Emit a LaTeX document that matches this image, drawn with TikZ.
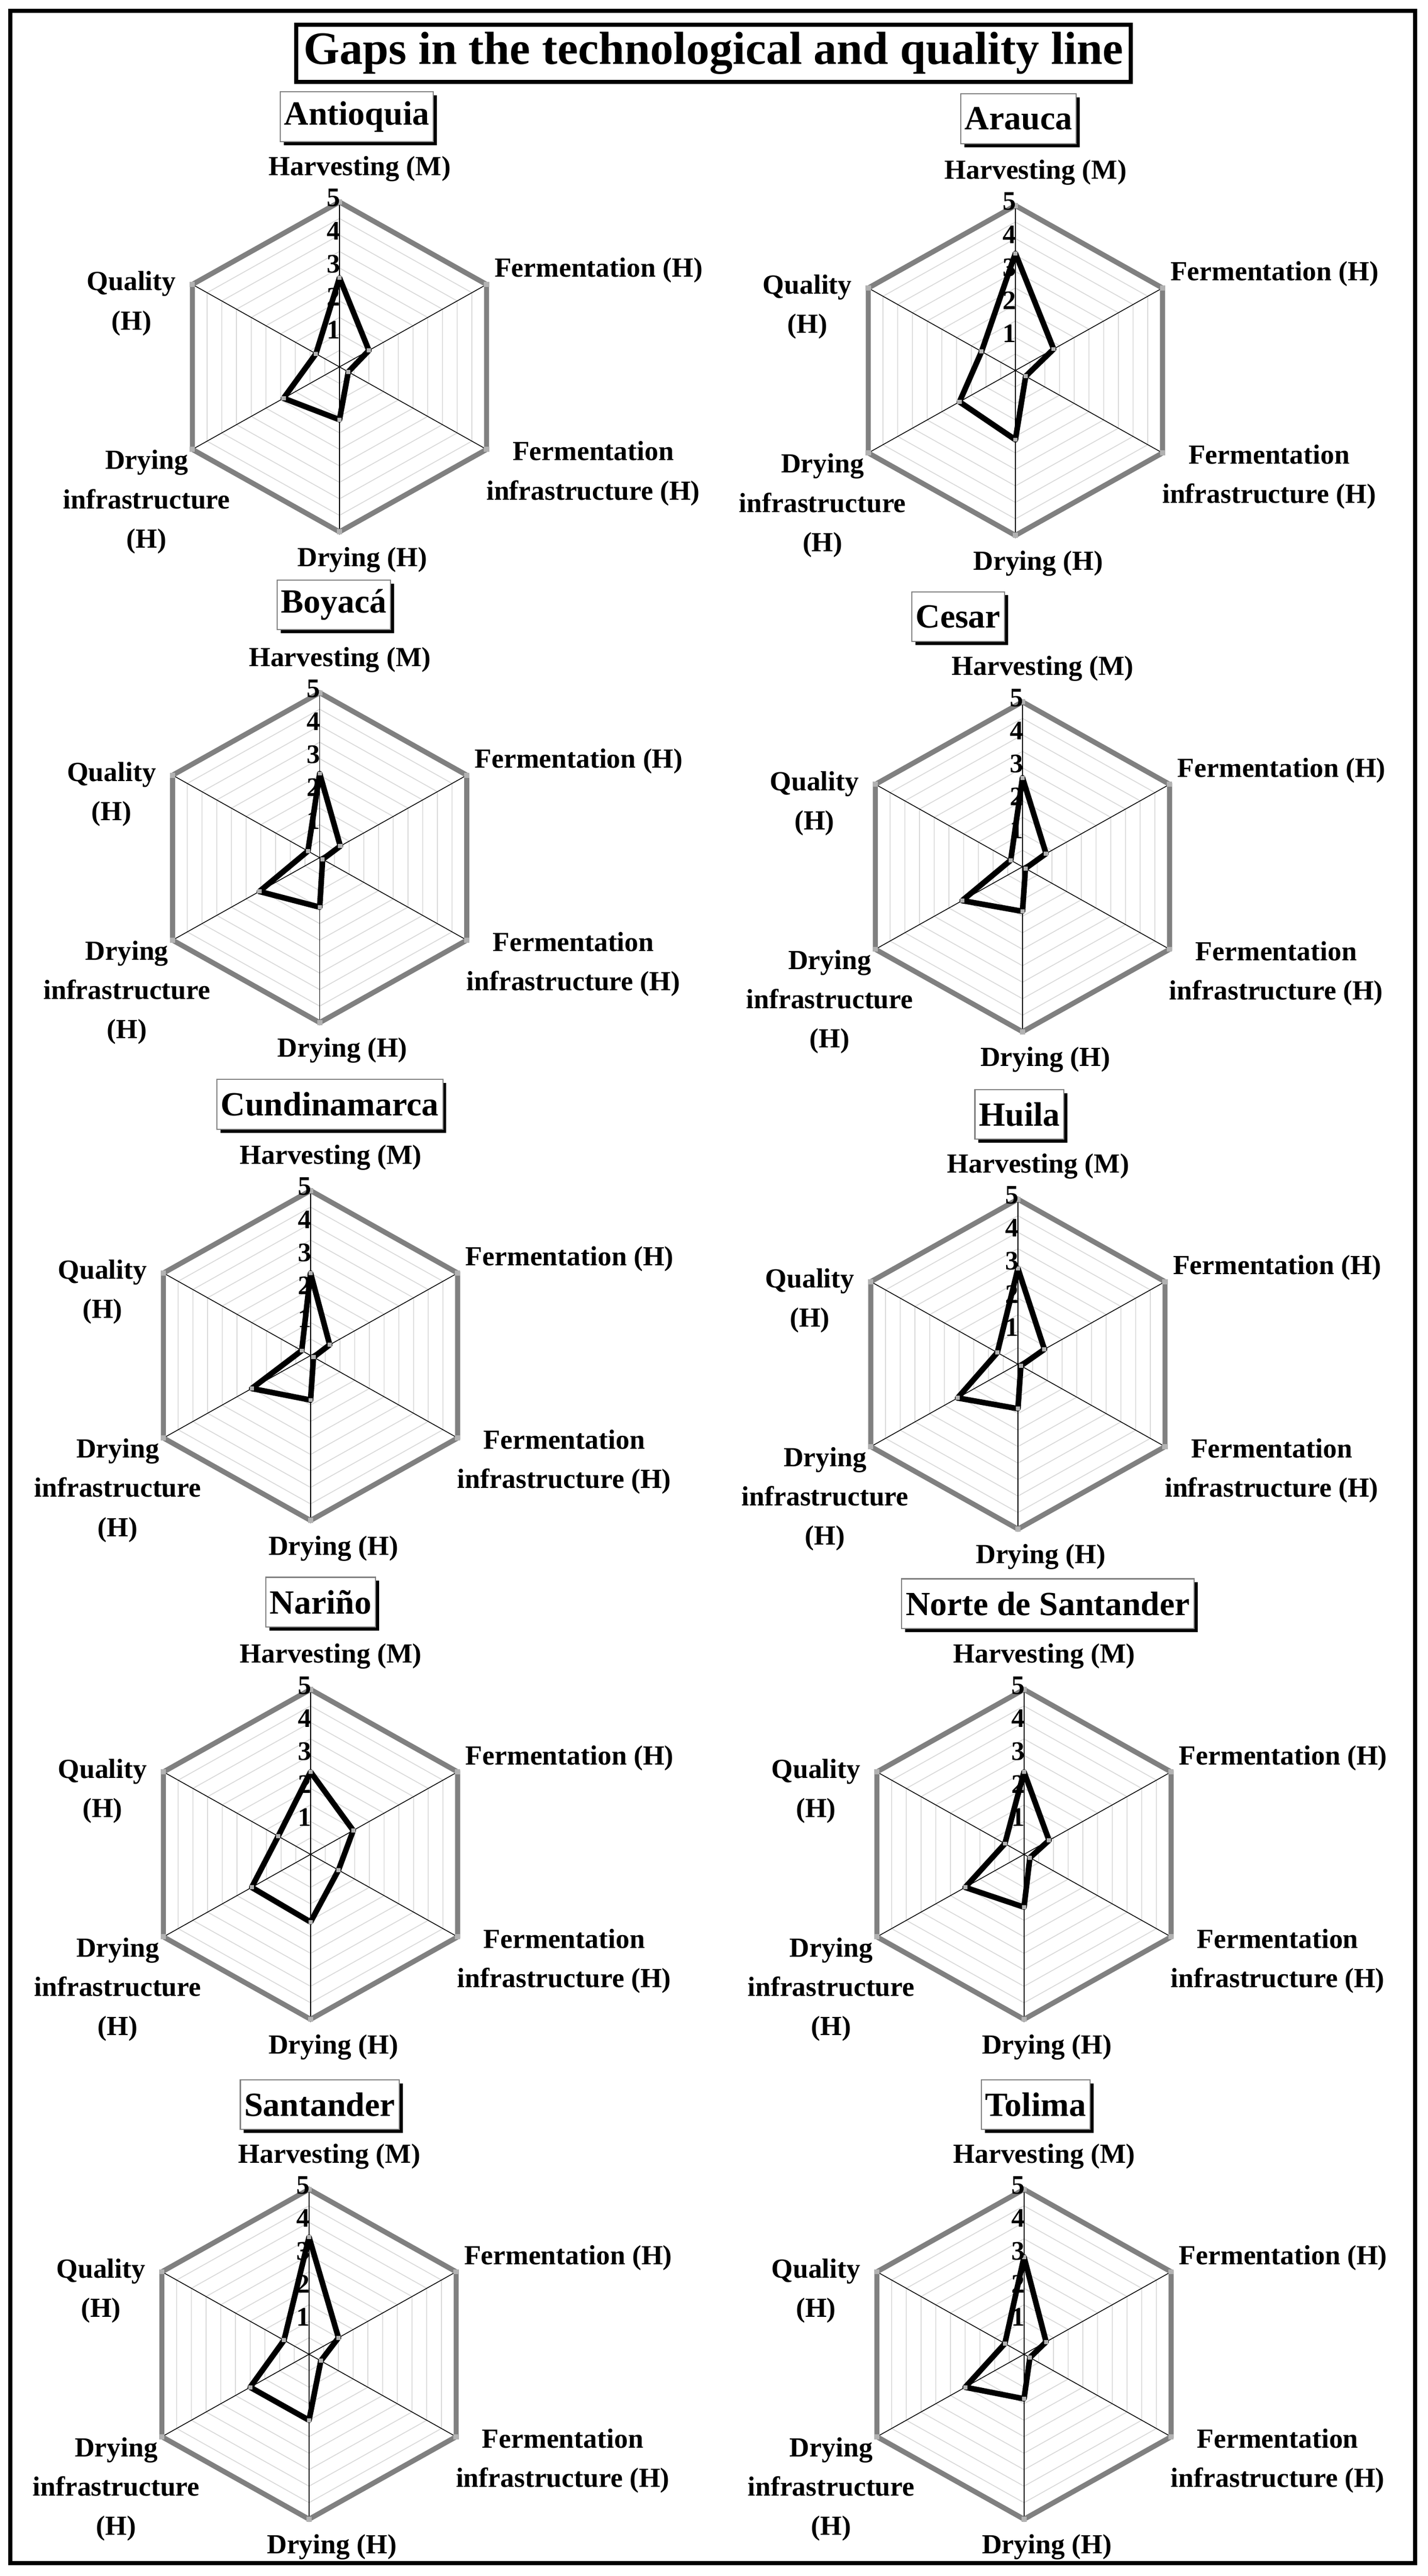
\documentclass[tikz,border=0pt]{standalone}
\usepackage{fontspec}
\setmainfont{Liberation Serif}
\usetikzlibrary{shadows}
\begin{document}
\begin{tikzpicture}[
  ring/.style={gray!30,line width=0.5pt},
  spoke/.style={black,line width=0.45pt},
  outer/.style={gray,line width=0.1cm,line join=miter},
  data/.style={black,line width=0.11cm,line join=round},
  mk/.style={fill=gray!60},
  lab/.style={font=\fontsize{15.5}{22}\selectfont\bfseries,inner sep=0pt,align=center},
  tick/.style={font=\fontsize{15}{16}\selectfont\bfseries,inner sep=0pt,anchor=east},
  rtit/.style={draw=gray,line width=0.6pt,fill=white,font=\fontsize{19}{22}\selectfont\bfseries,
    inner xsep=0.08cm,minimum height=0.98cm,
    drop shadow={shadow xshift=0.07cm,shadow yshift=-0.07cm,fill=black,opacity=1}},
  mtit/.style={draw=black,line width=0.08cm,fill=white,font=\fontsize{26}{30}\selectfont\bfseries,
    inner xsep=0.15cm,minimum height=1.12cm}
]
\useasboundingbox (0,0) rectangle (28.14,-50.76);
\draw[line width=0.08cm] (0.2,-0.21) rectangle (27.89,-50.51);
\node[mtit] (main) at (14.06,-1.05) {Gaps in the technological and quality line};

\newcommand\radar[9]{%
\begin{scope}[shift={(#2,#3)}]
 \begin{scope}[xscale=1.03]
  \foreach \k in {1,...,9}{\draw[ring] (90:\k*0.325) -- (30:\k*0.325) -- (-30:\k*0.325) -- (-90:\k*0.325) -- (-150:\k*0.325) -- (150:\k*0.325) -- cycle;}
  \foreach \a in {90,30,-30,-90,-150,150}{\draw[spoke] (0,0) -- (\a:3.25);}
  \draw[outer] (90:3.25) -- (30:3.25) -- (-30:3.25) -- (-90:3.25) -- (-150:3.25) -- (150:3.25) -- cycle;
  \foreach \a in {90,30,-30,-90,-150,150}{\fill[mk] ([shift={(-0.05,-0.05)}]\a:3.25) rectangle ++(0.1,0.1);}
  \draw[data] (90:{#4*0.65}) -- (30:{#5*0.65}) -- (-30:{#6*0.65}) -- (-90:{#7*0.65}) -- (-150:{#8*0.65}) -- (150:{#9*0.65}) -- cycle;
  \foreach \a/\v in {90/#4,30/#5,-30/#6,-90/#7,-150/#8,150/#9}{\fill[mk] ([shift={(-0.04,-0.04)}]\a:{\v*0.65}) rectangle ++(0.08,0.08);}
 \end{scope}
 \foreach \k in {1,...,5}{\node[tick] (#1-t\k) at (0.02,{\k*0.65+0.08}) {\k};}
 \node[lab] (#1-h) at (0.4,3.9) {Harvesting (M)};
 \node[lab,anchor=west] (#1-f) at (3.05,1.9) {Fermentation (H)};
 \node[lab] (#1-fi) at (5.0,-2.1) {Fermentation\\infrastructure (H)};
 \node[lab] (#1-d) at (0.45,-3.8) {Drying (H)};
 \node[lab] (#1-di) at (-3.8,-2.66) {Drying\\infrastructure\\(H)};
 \node[lab] (#1-q) at (-4.1,1.25) {Quality\\(H)};
\end{scope}}

\radar{ant}{6.69}{-7.23}{2.7}{1.0}{0.3}{1.6}{1.9}{0.8}
\radar{ara}{20.01}{-7.30}{3.55}{1.3}{0.35}{2.1}{1.9}{1.15}
\radar{boy}{6.30}{-16.90}{2.55}{0.7}{0.1}{1.5}{2.05}{0.4}
\radar{ces}{20.15}{-17.08}{2.7}{0.8}{0.1}{1.35}{2.05}{0.4}
\radar{cun}{6.12}{-26.71}{2.5}{0.65}{0.1}{1.35}{2.0}{0.3}
\radar{hui}{20.06}{-26.88}{2.9}{0.9}{0.1}{1.35}{2.05}{0.7}
\radar{nar}{6.12}{-36.54}{2.5}{1.45}{0.95}{2.05}{2.0}{1.1}
\radar{nor}{20.18}{-36.54}{2.5}{0.85}{0.2}{1.6}{2.0}{0.65}
\radar{san}{6.09}{-46.39}{3.55}{1.0}{0.4}{2.0}{2.0}{0.85}
\radar{tol}{20.18}{-46.39}{2.95}{0.75}{0.2}{1.35}{2.0}{0.65}

\node[rtit] (tant) at (7.03,-2.30) {Antioquia};
\node[rtit] (tara) at (20.07,-2.34) {Arauca};
\node[rtit] (tboy) at (6.58,-11.92) {Boyacá};
\node[rtit] (tces) at (18.88,-12.15) {Cesar};
\node[rtit] (tcun) at (6.50,-21.76) {Cundinamarca};
\node[rtit] (thui) at (20.09,-21.96) {Huila};
\node[rtit] (tnar) at (6.32,-31.57) {Nariño};
\node[rtit] (tnor) at (20.65,-31.60) {Norte de Santander};
\node[rtit] (tsan) at (6.30,-41.47) {Santander};
\node[rtit] (ttol) at (20.41,-41.47) {Tolima};
\end{tikzpicture}
\end{document}
